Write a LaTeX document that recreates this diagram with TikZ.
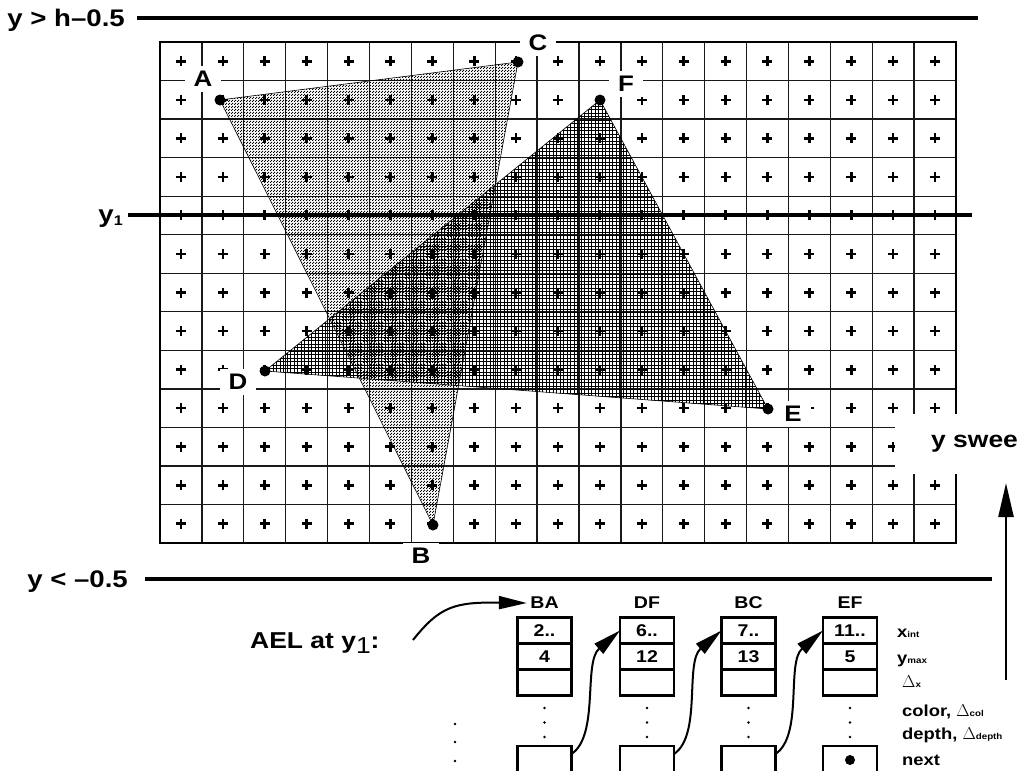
\documentclass[tikz,border=0pt]{standalone}
\usepackage{fontspec}
\setmainfont{Liberation Sans}[FakeStretch=1.15]
\usetikzlibrary{positioning, calc, arrows.meta, patterns}

% fill patterns for the two triangles
\pgfdeclarepatternformonly{stipple}{\pgfqpoint{0pt}{0pt}}{\pgfqpoint{3pt}{3pt}}{\pgfqpoint{3pt}{3pt}}{%
  \pgfpathrectangle{\pgfqpoint{0.15pt}{0.15pt}}{\pgfqpoint{1.3pt}{1.3pt}}%
  \pgfpathrectangle{\pgfqpoint{1.65pt}{1.65pt}}{\pgfqpoint{1.3pt}{1.3pt}}%
  \pgfusepath{fill}}
\pgfdeclarepatternformonly{finegrid}{\pgfqpoint{-0.5pt}{-0.5pt}}{\pgfqpoint{4pt}{4pt}}{\pgfqpoint{3.5pt}{3.5pt}}{%
  \pgfsetlinewidth{0.4pt}%
  \pgfpathmoveto{\pgfqpoint{0pt}{0pt}}\pgfpathlineto{\pgfqpoint{3.5pt}{0pt}}%
  \pgfpathmoveto{\pgfqpoint{0pt}{0pt}}\pgfpathlineto{\pgfqpoint{0pt}{3.5pt}}%
  \pgfusepath{stroke}}

\newcommand{\sublbl}[1]{{\fontsize{8.5}{8.5}\selectfont #1}}

\begin{document}
\begin{tikzpicture}[x=1pt, y=-1pt,
        >={Triangle[length=28pt, width=13pt]},
        gridln/.style={line width=1.3pt, draw=black!90},
        gridframe/.style={line width=2.6pt, draw=black},
        plusmk/.style={line width=2.6pt},
        triedge/.style={line width=0.6pt, draw=black},
        ruler/.style={line width=4pt},
        rulerlbl/.style={inner sep=0pt, font=\fontsize{24}{28}\selectfont\bfseries},
        ptlbl/.style={fill=white, inner xsep=9pt, inner ysep=5pt,
                      font=\fontsize{22.5}{26}\selectfont\bfseries},
        vdot/.style={circle, fill=black, inner sep=0pt, minimum size=11pt},
        cell/.style={draw, line width=2.4pt, outer sep=0pt, inner sep=0pt,
                     minimum width=54pt, minimum height=26pt,
                     font=\fontsize{17}{19}\selectfont\bfseries},
        endcell/.style={cell, minimum height=28pt},
        hdr/.style={font=\fontsize{17}{19}\selectfont\bfseries},
        fldlbl/.style={anchor=base west, inner sep=0pt,
                       font=\fontsize{16}{18}\selectfont\bfseries},
        pointer/.style={->, line width=2pt},
        sweepbox/.style={fill=white, inner xsep=36pt, minimum height=60pt,
                         font=\fontsize{23}{27}\selectfont\bfseries},
        sweeparr/.style={-{Triangle[length=34pt, width=15pt]}, line width=2.5pt},
    ]
        \useasboundingbox (0,0) rectangle (1020,771);
        \def\cw{41.895}
        \def\rh{38.54}

        % pixel grid with sample points
        \foreach \i in {1,...,18}
            \draw[gridln] ({160+\cw*\i},42) -- ({160+\cw*\i},543);
        \foreach \j in {1,...,12}
            \draw[gridln] (160,{42+\rh*\j}) -- (956,{42+\rh*\j});
        \draw[gridframe] (160,42) rectangle (956,543);
        \foreach \i in {0,...,18}{
            \foreach \j in {0,...,12}{
                \draw[plusmk] ({160+\cw*(\i+0.5)-5},{42+\rh*(\j+0.5)}) -- ++(10,0)
                              ({160+\cw*(\i+0.5)},{42+\rh*(\j+0.5)-5}) -- ++(0,10);
            }
        }

        % triangles ABC and DEF
        \coordinate (A) at (220,100);
        \coordinate (B) at (433,525);
        \coordinate (C) at (518,62);
        \coordinate (D) at (265,371);
        \coordinate (E) at (768,409);
        \coordinate (F) at (600,100);
        \draw[triedge, pattern=stipple]  (A) -- (B) -- (C) -- cycle;
        \draw[triedge, pattern=finegrid] (D) -- (E) -- (F) -- cycle;

        % scan lines
        \coordinate (topL) at (137,18);  \coordinate (topR) at (978,18);
        \coordinate (scanL) at (128,215); \coordinate (scanR) at (972,215);
        \coordinate (botL) at (145,579); \coordinate (botR) at (992,579);
        \draw[ruler] (topL) -- (topR);
        \draw[ruler] (scanL) -- (scanR);
        \draw[ruler] (botL) -- (botR);
        \node[rulerlbl, anchor=base east] (toplbl)  at (125,27) {y > h–0.5};
        \node[rulerlbl, anchor=base east] (scanlbl) at (123,222)
            {y\raisebox{-3pt}{\fontsize{14}{14}\selectfont 1}};
        \node[rulerlbl, anchor=base east] (botlbl)  at (128,587) {y < –0.5};

        % vertices
        \foreach \v in {A,B,C,D,E,F}
            \node[vdot] at (\v) {};
        \node[ptlbl] (Albl) at (203,79)  {A};
        \node[ptlbl] (Blbl) at (421,556) {B};
        \node[ptlbl] (Clbl) at (538,43)  {C};
        \node[ptlbl] (Dlbl) at (238,382) {D};
        \node[ptlbl] (Elbl) at (793,414) {E};
        \node[ptlbl] (Flbl) at (626,84)  {F};

        % sweep direction
        \node[sweepbox, anchor=west] (sweep) at (895,444) {y swee};
        \coordinate (sweepfoot) at (1006,680);
        \coordinate (sweeptip)  at (1006,483);
        \draw[sweeparr] (sweepfoot) -- (sweeptip);

        % active edge list
        \node[rulerlbl, anchor=base west, font=\fontsize{23}{27}\selectfont\bfseries] (ael) at (250,648)
            {AEL at y\raisebox{-5pt}{\mdseries 1}:};
        \coordinate (aelout) at (413,640);

        \node[hdr] (BAh) at (544.5,603) {BA};
        \node[cell]                  (BAx) at (544.5,630.5) {2..};
        \node[cell, below=0pt of BAx] (BAy) {4};
        \node[cell, below=0pt of BAy] (BAd) {};
        \node[endcell]               (BAn) at (544.5,760) {};

        \node[hdr] (DFh) at (647,603) {DF};
        \node[cell]                  (DFx) at (647,630.5) {6..};
        \node[cell, below=0pt of DFx] (DFy) {12};
        \node[cell, below=0pt of DFy] (DFd) {};
        \node[endcell]               (DFn) at (647,760) {};

        \node[hdr] (BCh) at (748.5,603) {BC};
        \node[cell]                  (BCx) at (748.5,630.5) {7..};
        \node[cell, below=0pt of BCx] (BCy) {13};
        \node[cell, below=0pt of BCy] (BCd) {};
        \node[endcell]               (BCn) at (748.5,760) {};

        \node[hdr] (EFh) at (850,603) {EF};
        \node[cell]                  (EFx) at (850,630.5) {11..};
        \node[cell, below=0pt of EFx] (EFy) {5};
        \node[cell, below=0pt of EFy] (EFd) {};
        \node[endcell]               (EFn) at (850,760) {};
        \fill (EFn.center) circle (5pt);

        % elided fields
        \foreach \col in {BA,DF,BC,EF}
            \foreach \k in {12.5,27,41.5}
                \fill ($(\col d.south)+(0,\k)$) circle (1.4pt);
        \foreach \k in {724,742,761}
            \fill (455,\k) circle (1.4pt);

        % list pointers
        \draw[pointer] (aelout) .. controls (440,606) and (455,602) .. (BAh.west);
        \draw[pointer] ([yshift=6pt]BAn.east) .. controls +(28,-19) and +(-37,32) .. (DFx.west);
        \draw[pointer] ([yshift=6pt]DFn.east) .. controls +(28,-19) and +(-37,32) .. (BCx.west);
        \draw[pointer] ([yshift=6pt]BCn.east) .. controls +(28,-19) and +(-37,32) .. (EFx.west);

        % field names
        \node[fldlbl] (fx)  at (897,637) {x\sublbl{int}};
        \node[fldlbl] (fy)  at (897,663) {y\sublbl{max}};
        \node[fldlbl] (fdx) at (902,687) {$\Delta$\sublbl{x}};
        \node[fldlbl] (fc)  at (902,716) {color, $\Delta$\sublbl{col}};
        \node[fldlbl] (fd)  at (902,739) {depth, $\Delta$\sublbl{depth}};
        \node[fldlbl] (fn)  at (902,765) {next};
\end{tikzpicture}
\end{document}
